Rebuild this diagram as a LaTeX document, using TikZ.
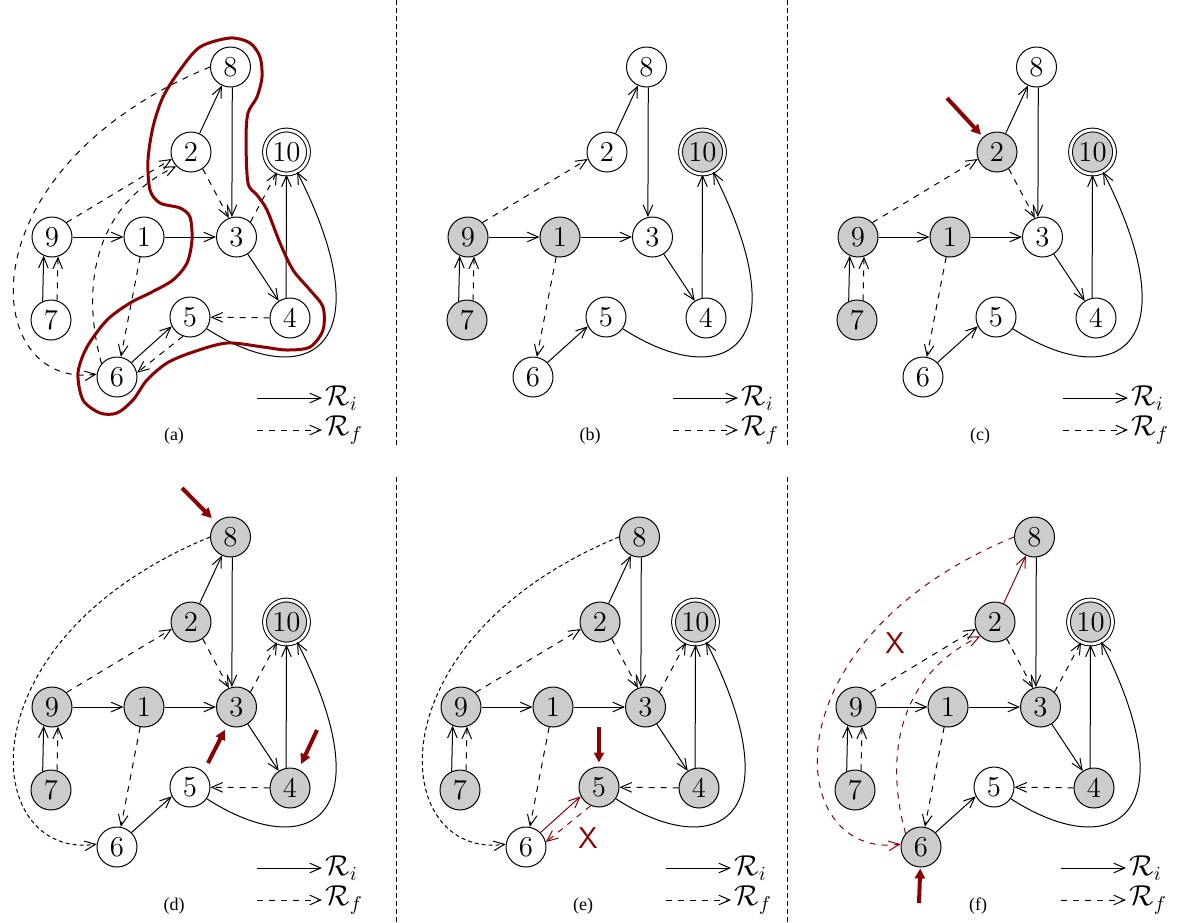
\documentclass[tikz,border=0pt]{standalone}
\usepackage{fontspec}
\usepackage{amsmath}
\newfontfamily\capfont{Liberation Serif}
\usetikzlibrary{arrows.meta}
\definecolor{darkred}{RGB}{139,0,0}

\tikzset{
  vert/.style={circle,draw,line width=0.5pt,minimum size=20pt,inner sep=0pt,fill=white,font=\fontsize{14.4}{16}\selectfont},
  accept/.style={double,double distance=1.4pt,minimum size=22pt},
  shaded/.style={fill=gray!40},
  v1/.style={},v2/.style={},v3/.style={},v4/.style={},v5/.style={},
  v6/.style={},v7/.style={},v8/.style={},v9/.style={},v10/.style={accept},
  ri/.style={line width=0.5pt,-{Straight Barb[length=5.5pt,width=4.8pt]}},
  rf/.style={ri,dashed},
  rfine/.style={ri,dash pattern=on 2pt off 1.5pt},
  hl/.style={darkred,line width=2pt,-{Triangle[length=5pt,width=5pt]}},
  cross/.style={darkred,font=\fontsize{15}{15}\sffamily},
  sep/.style={line width=0.5pt,dash pattern=on 2.5pt off 1.5pt},
  legend/.style={anchor=west,inner sep=1.5pt,font=\fontsize{14}{16}\selectfont},
}

% node positions (pixels of one panel)
\def\nodepos{1/144/237,2/191/152,3/236.5/237,4/290/318,5/190/317,6/117/377,7/51/320,8/230.5/67,9/52/237,10/286.5/152}

\newcommand{\basegraph}[1]{%
  \foreach \n/\x/\y in \nodepos
    \node[vert,v\n] (\n) at (\x,\y) {$\n$};
  \draw[ri] (9) -- (1);
  \draw[ri] (1) -- (3);
  \draw[ri] (7.114) -- (9.246);
  \draw[rf] (7.73) -- (9.287);
  \draw[ri] (8.275) -- (3.103);
  \draw[ri] (3) -- (4);
  \draw[ri] (4.101) -- (10.south);
  \draw[ri] (5.325) .. controls (310,395) and (385,345) .. (10.298);
  \draw[rf] (9.45) -- (2.200);
  \draw[rf] (1) -- (6);
  % legend
  \coordinate (li) at (257,398);
  \coordinate (lf) at (257,430);
  \node[legend] (Ri) at (322,398) {$\mathcal{R}_i$};
  \node[legend] (Rf) at (322,430) {$\mathcal{R}_f$};
  \draw[ri] (li) -- (Ri.west);
  \draw[rf] (lf) -- (Rf.west);
  \node[font=\capfont\fontsize{9}{10}\selectfont] (cap) at (174,436) {#1};
}

\begin{document}
\begin{tikzpicture}[x=0.5pt,y=-0.5pt]
\useasboundingbox (0,0) rectangle (1182,922);

\draw[sep] (396,0) -- (396,447);
\draw[sep] (787,0) -- (787,447);
\draw[sep] (396,477) -- (396,922);
\draw[sep] (787,477) -- (787,922);

% (a)
\begin{scope}
  \basegraph{(a)}
  \draw[ri] (2) -- (8);
  \draw[ri] (6.45) -- (5.207);
  \draw[rf] (2.305) -- (3.112);
  \draw[rf] (3.47) -- (10.245);
  \draw[rf] (4) -- (5);
  \draw[rf] (5.250) -- (6.12);
  \draw[rf] (8.180) .. controls (-40,170) and (-20,390) .. (6.172);
  \draw[rf] (6.139) .. controls (80,285) and (95,205) .. (2.224);
  \draw[darkred,line width=1.5pt] plot[smooth cycle] coordinates {
    (230,38) (250,43) (260,57) (262,77) (257,97) (248,113) (246,140) (248,183)
    (257,195) (267,210) (280,243) (293,270) (310,290) (323,307) (323,330)
    (310,347) (287,350) (263,347) (227,343) (193,352) (167,363) (147,380)
    (133,400) (117,413) (100,413) (83,400) (78,373) (87,347) (107,320)
    (130,303) (150,293) (173,280) (187,263) (192,240) (190,217) (180,208)
    (160,203) (150,190) (148,160) (153,127) (163,97) (180,70) (200,47)};
\end{scope}

% (b)
\begin{scope}[shift={(416,0)},v1/.style=shaded,v7/.style=shaded,v9/.style=shaded,v10/.style={accept,shaded}]
  \basegraph{(b)}
  \draw[ri] (2) -- (8);
  \draw[ri] (6.45) -- (5.207);
\end{scope}

% (c)
\begin{scope}[shift={(806,0)},v1/.style=shaded,v2/.style=shaded,v7/.style=shaded,v9/.style=shaded,v10/.style={accept,shaded}]
  \basegraph{(c)}
  \draw[ri] (2) -- (8);
  \draw[ri] (6.45) -- (5.207);
  \draw[rf] (2.305) -- (3.112);
  \coordinate (h2) at (141,98);
  \draw[hl,shorten >=1.5pt] (h2) -- (2);
\end{scope}

% (d)
\begin{scope}[shift={(0,470)},v1/.style=shaded,v2/.style=shaded,v3/.style=shaded,v4/.style=shaded,
  v7/.style=shaded,v8/.style=shaded,v9/.style=shaded,v10/.style={accept,shaded}]
  \basegraph{(d)}
  \draw[ri] (2) -- (8);
  \draw[ri] (6.45) -- (5.207);
  \draw[rf] (2.305) -- (3.112);
  \draw[rf] (3.47) -- (10.245);
  \draw[rf] (4) -- (5);
  \draw[rfine] (8.180) .. controls (-40,170) and (-20,390) .. (6.172);
  \coordinate (h8) at (182,18);
  \coordinate (h3) at (208,293);
  \coordinate (h4) at (317,260);
  \draw[hl,shorten >=3pt] (h8) -- (8);
  \draw[hl,shorten >=2.5pt] (h3) -- (3);
  \draw[hl,shorten >=3pt] (h4) -- (4);
\end{scope}

% (e)
\begin{scope}[shift={(409,470)},v1/.style=shaded,v2/.style=shaded,v3/.style=shaded,v4/.style=shaded,
  v5/.style=shaded,v7/.style=shaded,v8/.style=shaded,v9/.style=shaded,v10/.style={accept,shaded}]
  \basegraph{(e)}
  \draw[ri] (2) -- (8);
  \draw[ri,darkred] (6.45) -- (5.207);
  \draw[rf] (2.305) -- (3.112);
  \draw[rf] (3.47) -- (10.245);
  \draw[rf] (4) -- (5);
  \draw[rf,darkred] (5.246) -- (6.14);
  \draw[rfine] (8.180) .. controls (-40,170) and (-20,390) .. (6.172);
  \node[cross] (x56) at (179,368) {X};
  \coordinate (h5) at (190,257);
  \draw[hl,shorten >=2pt] (h5) -- (5);
\end{scope}

% (f)
\begin{scope}[shift={(804,470)},v1/.style=shaded,v2/.style=shaded,v3/.style=shaded,v4/.style=shaded,
  v6/.style=shaded,v7/.style=shaded,v8/.style=shaded,v9/.style=shaded,v10/.style={accept,shaded}]
  \basegraph{(f)}
  \draw[ri,darkred] (2) -- (8);
  \draw[ri] (6.45) -- (5.207);
  \draw[rf] (2.305) -- (3.112);
  \draw[rf] (3.47) -- (10.245);
  \draw[rf] (4) -- (5);
  \draw[rf,darkred] (8.180) .. controls (-40,170) and (-20,390) .. (6.172);
  \draw[rf,darkred] (6.139) .. controls (80,285) and (95,205) .. (2.224);
  \node[cross] (x86) at (91,173) {X};
  \coordinate (h6) at (115,433);
  \draw[hl,shorten >=0.5pt] (h6) -- (6);
\end{scope}
\end{tikzpicture}
\end{document}
